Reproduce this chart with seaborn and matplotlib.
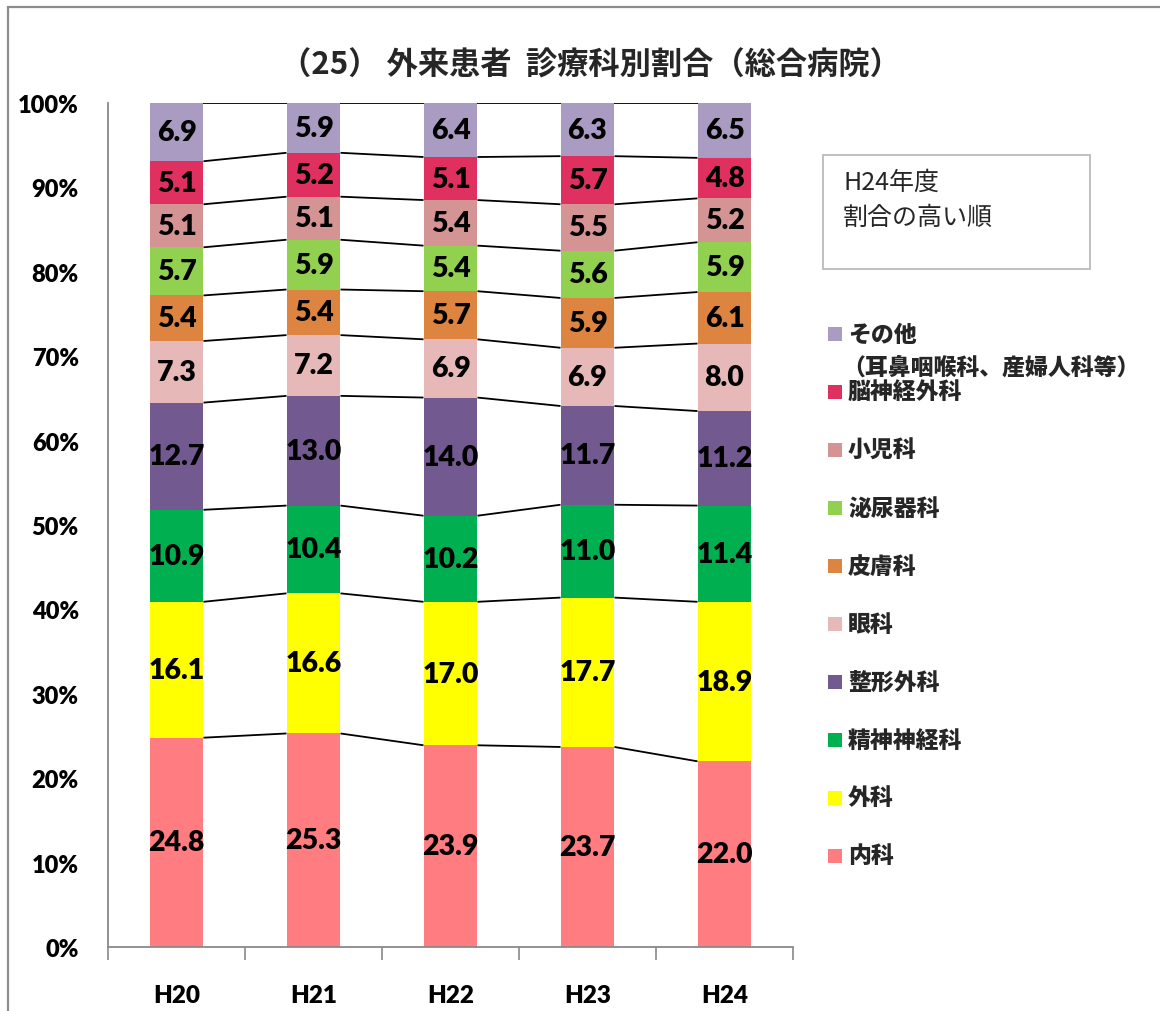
import matplotlib
matplotlib.use("Agg")
import matplotlib.pyplot as plt
from matplotlib.patches import Rectangle
import numpy as np
import pandas as pd
import seaborn as sns

# Fiscal years and departments (bottom of the stack first)
years = ["H20", "H21", "H22", "H23", "H24"]
departments = ["内科", "外科", "精神神経科", "整形外科", "眼科",
               "皮膚科", "泌尿器科", "小児科", "脳神経外科", "その他"]

naika = [24.8, 25.3, 23.9, 23.7, 22.0]
geka = [16.1, 16.6, 17.0, 17.7, 18.9]
seishin = [10.9, 10.4, 10.2, 11.0, 11.4]
seikei = [12.7, 13.0, 14.0, 11.7, 11.2]
ganka = [7.3, 7.2, 6.9, 6.9, 8.0]
hifu = [5.4, 5.4, 5.7, 5.9, 6.1]
hinyoki = [5.7, 5.9, 5.4, 5.6, 5.9]
shoni = [5.1, 5.1, 5.4, 5.5, 5.2]
noushinkei = [5.1, 5.2, 5.1, 5.7, 4.8]
sonota = [6.9, 5.9, 6.4, 6.3, 6.5]

colors = ["#FF7C80", "#FFFF00", "#00B050", "#725A90", "#E6B9B8",
          "#DD8540", "#92D050", "#D49494", "#E0305F", "#A99BC1"]

legend_labels = ["内科", "外科", "精神神経科", "整形外科", "眼科",
                 "皮膚科", "泌尿器科", "小児科", "脳神経外科", "その他"]
other_note = "（耳鼻咽喉科、産婦人科等）"
title_text = "（25） 外来患者  診療科別割合（総合病院）"
box_lines = ["H24年度", "割合の高い順"]
y_ticks = [0, 10, 20, 30, 40, 50, 60, 70, 80, 90, 100]

values = np.array([naika, geka, seishin, seikei, ganka,
                   hifu, hinyoki, shoni, noushinkei, sonota])
cum = np.cumsum(values, axis=0)

sns.set_theme(style="white")
plt.rcParams["font.family"] = ["Lato", "Noto Sans CJK JP", "DejaVu Sans"]

W, H = 1160, 1012
fig = plt.figure(figsize=(W / 100, H / 100), dpi=100)


def fx(px):
    return px / W


def fy(py):
    return 1 - py / H


ax = fig.add_axes([fx(108), fy(948), fx(793) - fx(108), fy(104) - fy(948)])

bar_w = 0.394
# Stacked bars: draw cumulative totals from the top layer down
for k in range(len(departments) - 1, -1, -1):
    df = pd.DataFrame({"year": years, "cum": cum[k]})
    sns.barplot(data=df, x="year", y="cum", color=colors[k], width=bar_w,
                saturation=1, ax=ax, linewidth=0, order=years)

# Series lines joining segment tops between neighbouring bars
for k in range(len(departments)):
    for i in range(len(years) - 1):
        ax.plot([i + bar_w / 2, i + 1 - bar_w / 2], [cum[k][i], cum[k][i + 1]],
                color="black", lw=1.3, solid_capstyle="butt", zorder=3)

num_font = dict(family="Lato", fontweight="heavy")

# Value labels centred in each segment
for k in range(len(departments)):
    for i in range(len(years)):
        ax.text(i, cum[k][i] - values[k][i] / 2, f"{values[k][i]:.1f}",
                ha="center", va="center", fontsize=20.5, color="black",
                zorder=4, **num_font)

ax.set_xlim(-0.5, len(years) - 0.5)
ax.set_ylim(0, 100)
ax.set_xlabel("")
ax.set_ylabel("")
ax.set_yticks(y_ticks)
ax.set_yticklabels([f"{t}%" for t in y_ticks], fontsize=17, **num_font)
ax.set_xticks(range(len(years)))
ax.set_xticklabels(years, fontsize=17.5, **num_font)
ax.set_xticks(np.arange(-0.5, len(years)), minor=True)
ax.tick_params(axis="x", which="major", length=0, pad=27, colors="black")
ax.tick_params(axis="x", which="minor", length=9, width=1.2, color="#898989",
               direction="out", bottom=True)
ax.tick_params(axis="y", length=0, pad=21, colors="black")
for s in ["top", "right"]:
    ax.spines[s].set_visible(False)
for s in ["left", "bottom"]:
    ax.spines[s].set_color("#898989")
    ax.spines[s].set_linewidth(1.3)
ax.grid(False)

# Outer chart frame
fig.patches.append(Rectangle((fx(8), -0.05), 1.2, fy(8) + 0.05,
                             transform=fig.transFigure, fill=False,
                             edgecolor="#8C8C8C", lw=1.6, zorder=0))

fig.text(fx(590), fy(66), title_text, ha="center", va="center",
         fontsize=22.5, fontweight="bold", family="Noto Sans CJK JP")

# Note box
fig.patches.append(Rectangle((fx(823), fy(270)), fx(1090) - fx(823),
                             fy(156) - fy(270), transform=fig.transFigure,
                             fill=False, edgecolor="#BFBFBF", lw=1.4))
fig.text(fx(843), fy(183), box_lines[0], ha="left", va="center", fontsize=18,
         family="Noto Sans CJK JP")
fig.text(fx(843), fy(218), box_lines[1], ha="left", va="center", fontsize=18,
         family="Noto Sans CJK JP")

# Legend, highest layer on top
step = 58
for j, k in enumerate(range(len(departments) - 1, -1, -1)):
    yc = 335 + j * step
    fig.patches.append(Rectangle((fx(828), fy(yc + 7)), fx(14), 14 / H,
                                 transform=fig.transFigure,
                                 facecolor=colors[k], edgecolor="none"))
    fig.text(fx(848), fy(yc), legend_labels[k], ha="left", va="center",
             fontsize=16.5, fontweight="heavy", family="Noto Sans CJK JP")
    if departments[k] == "その他":
        fig.text(fx(842), fy(yc + 33), other_note, ha="left", va="center",
                 fontsize=16.5, fontweight="heavy", family="Noto Sans CJK JP")

fig.savefig("out.png", dpi=100)
